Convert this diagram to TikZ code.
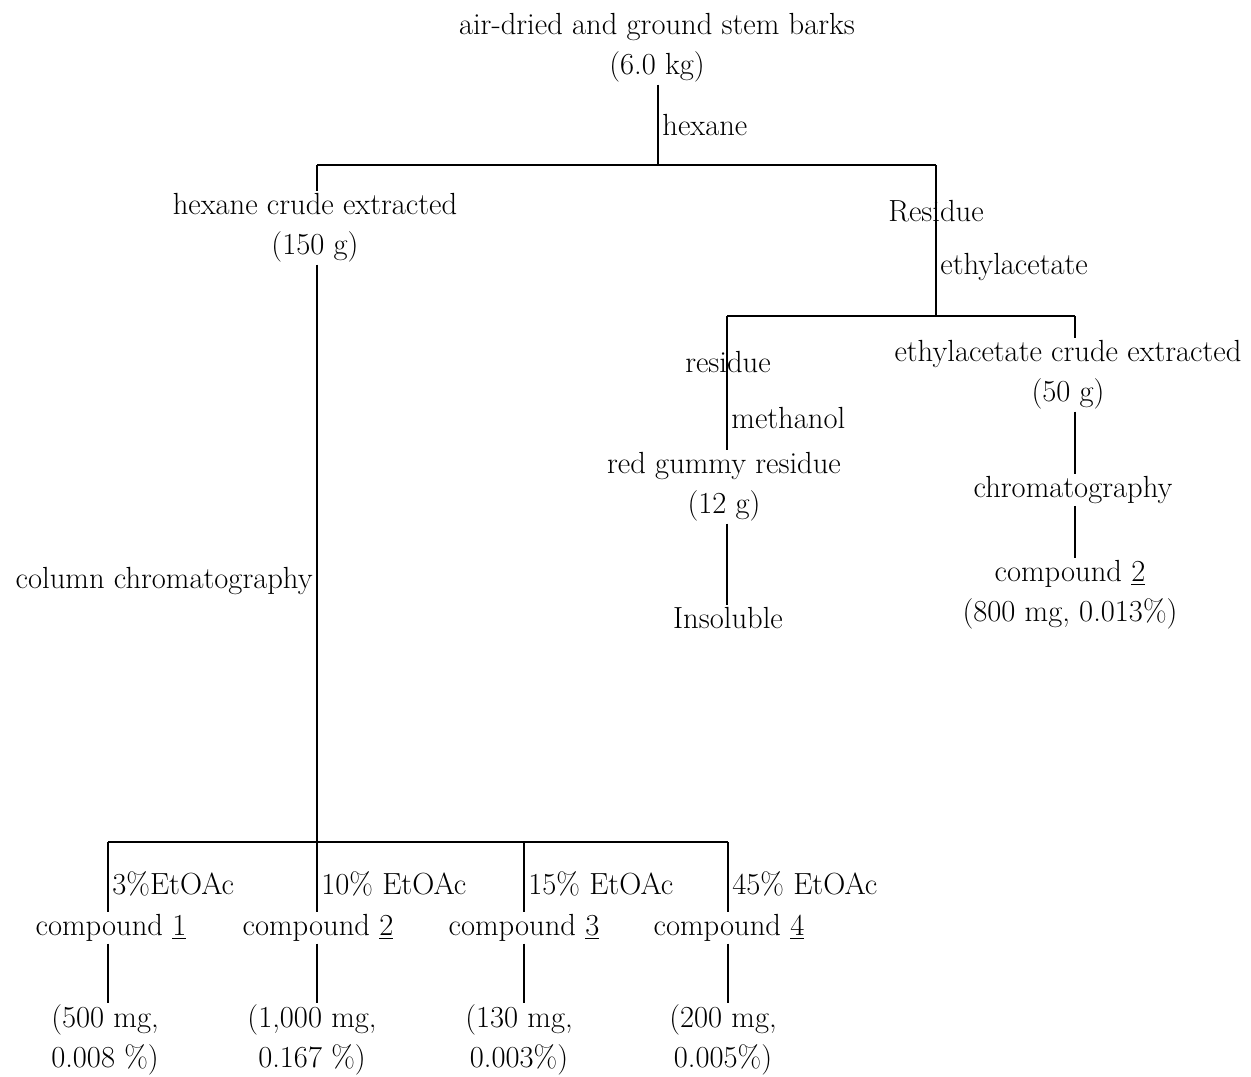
\documentclass[tikz,border=0pt]{standalone}
\usepackage{tikz}
\usetikzlibrary{positioning}

\begin{document}
\begin{tikzpicture}[x=0.02cm, y=-0.02cm,
    txt/.style={align=center, inner sep=1pt, font=\fontsize{17.4}{22.8}\selectfont},
    solv/.style={inner sep=2pt, font=\fontsize{17.4}{22.8}\selectfont},
    ln/.style={line width=1pt},
  ]
    \useasboundingbox (0,0) rectangle (1251,1076);

    % Extraction of the barks
    \node[txt] (src) at (657,48) {air-dried and ground stem barks\\(6.0 kg)};
    \coordinate (j1) at (658,165);
    \coordinate (jl) at (317,165);
    \coordinate (jr) at (936,165);
    \node[txt] (hcr) at (315,228) {hexane crude extracted\\(150 g)};
    \draw[ln] (src.south -| j1) -- node[solv, right] {hexane} (j1);
    \draw[ln] (jl) -- (jr);
    \draw[ln] (jl) -- (jl |- hcr.north);

    % Residue branch
    \coordinate (j2) at (936,316);
    \coordinate (ja) at (727,316);
    \coordinate (jb) at (1075,316);
    \draw[ln] (jr) -- node[solv, right, pos=0.675] {ethylacetate} (j2);
    \node[txt] (res) at (936,211) {Residue};
    \draw[ln] (ja) -- (jb);
    \node[txt] (rgr) at (724,487) {red gummy residue\\(12 g)};
    \draw[ln] (ja) -- node[solv, right, pos=0.76] {methanol} (ja |- rgr.north);
    \node[txt] (rsd) at (728,362) {residue};
    \node[txt] (ins) at (728,618) {Insoluble};
    \draw[ln] (rgr.south -| ja) -- (ins.north -| ja);

    % Ethylacetate extract
    \node[txt] (eac) at (1068,375) {ethylacetate crude extracted\\(50 g)};
    \node[txt] (chr) at (1073,490) {chromatography};
    \node[txt] (cpe) at (1070,595) {compound \underline{2}\\(800 mg, 0.013\%)};
    \draw[ln] (jb) -- (jb |- eac.north);
    \draw[ln] (eac.south -| jb) -- (chr.north -| jb);
    \draw[ln] (chr.south -| jb) -- (cpe.north -| jb);

    % Column chromatography of the hexane extract
    \coordinate (b1) at (108,842);
    \coordinate (b2) at (317,842);
    \coordinate (b3) at (524,842);
    \coordinate (b4) at (728,842);
    \draw[ln] (hcr.south -| b2) -- node[solv, left, pos=0.548] {column chromatography} (b2);
    \draw[ln] (b1) -- (b4);

    \node[txt] (c1) at (111,928) {compound \underline{1}};
    \node[txt] (c2) at (318,928) {compound \underline{2}};
    \node[txt] (c3) at (524,928) {compound \underline{3}};
    \node[txt] (c4) at (729,928) {compound \underline{4}};
    \draw[ln] (b1) -- node[solv, right, pos=0.6] {3\%EtOAc} (b1 |- c1.north);
    \draw[ln] (b2) -- node[solv, right, pos=0.6] {10\% EtOAc} (b2 |- c2.north);
    \draw[ln] (b3) -- node[solv, right, pos=0.6] {15\% EtOAc} (b3 |- c3.north);
    \draw[ln] (b4) -- node[solv, right, pos=0.6] {45\% EtOAc} (b4 |- c4.north);

    \node[txt] (m1) at (105,1040) {(500 mg,\\0.008 \%)};
    \node[txt] (m2) at (312,1040) {(1,000 mg,\\0.167 \%)};
    \node[txt] (m3) at (519,1040) {(130 mg,\\0.003\%)};
    \node[txt] (m4) at (723,1040) {(200 mg,\\0.005\%)};
    \draw[ln] (c1.south -| b1) -- (b1 |- m1.north);
    \draw[ln] (c2.south -| b2) -- (b2 |- m2.north);
    \draw[ln] (c3.south -| b3) -- (b3 |- m3.north);
    \draw[ln] (c4.south -| b4) -- (b4 |- m4.north);
  \end{tikzpicture}
\end{document}
